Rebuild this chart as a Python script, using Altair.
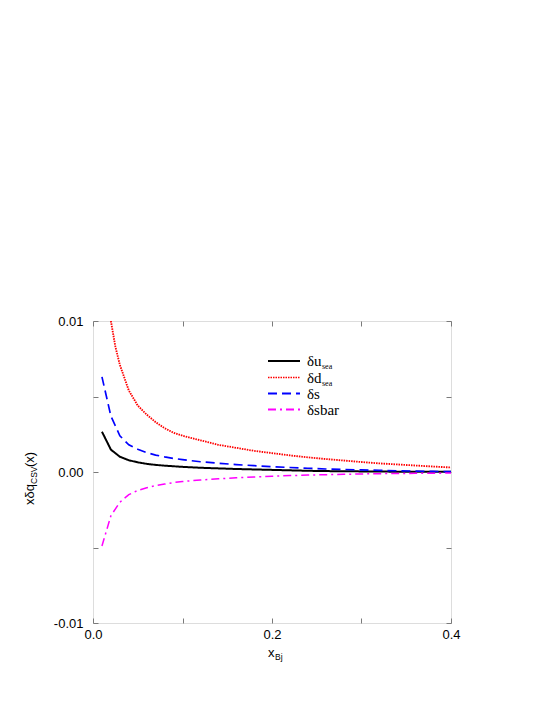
import altair as alt
import pandas as pd

# ---- data ----
x_u = [0.01, 0.02, 0.03, 0.04, 0.05, 0.06, 0.07, 0.08, 0.09, 0.10, 0.12, 0.14, 0.16, 0.18, 0.20,
       0.22, 0.24, 0.26, 0.28, 0.30, 0.32, 0.34, 0.36, 0.38, 0.40]
du_sea = [0.00267, 0.00148, 0.00101, 0.00078, 0.00064, 0.00054, 0.00047, 0.00042, 0.00038, 0.00034,
          0.00028, 0.00024, 0.00020, 0.00017, 0.00014, 0.00011, 0.00008, 0.00006, 0.00005, 0.00004,
          0.00003, 0.00002, 0.00002, 0.00001, 0.00001]

x_d = [0.02, 0.025, 0.03, 0.04, 0.05, 0.06, 0.07, 0.08, 0.09, 0.10, 0.12, 0.14, 0.16, 0.18, 0.20,
       0.22, 0.24, 0.26, 0.28, 0.30, 0.32, 0.34, 0.36, 0.38, 0.40]
dd_sea = [0.0100, 0.0083, 0.0071, 0.0054, 0.0044, 0.0038, 0.0033, 0.0029, 0.0026, 0.0024,
          0.0021, 0.0018, 0.0016, 0.0014, 0.00125, 0.00110, 0.00097, 0.00086, 0.00076, 0.00066,
          0.00057, 0.00050, 0.00043, 0.00036, 0.00030]

x_s = x_u
ds = [0.0063, 0.0037, 0.0024, 0.0018, 0.0015, 0.00128, 0.00112, 0.00100, 0.00090, 0.00082,
      0.00068, 0.00058, 0.00049, 0.00042, 0.00035, 0.00030, 0.00025, 0.00020, 0.00017, 0.00014,
      0.00011, 0.00008, 0.00006, 0.00004, 0.00002]

x_sbar = x_u
dsbar = [-0.0049, -0.0029, -0.0020, -0.0015, -0.00122, -0.00104, -0.00090, -0.00080, -0.00070, -0.00063,
         -0.00053, -0.00045, -0.00038, -0.00033, -0.00028, -0.00024, -0.00020, -0.00018, -0.00015, -0.00013,
         -0.00011, -0.00010, -0.00009, -0.00008, -0.00007]

series_names = ["du_sea", "dd_sea", "ds", "dsbar"]
series_colors = ["#000000", "#ff0000", "#0000ff", "#ff00ff"]
series_dash = [[1, 0], [1.5, 1], [9, 5], [8, 4, 2, 4]]
series_width = [2, 1.5, 2, 2]

x_ticks = [0.0, 0.1, 0.2, 0.3, 0.4]
y_ticks = [-0.01, -0.005, 0.0, 0.005, 0.01]

rows = []
for name, xs, ys in [("du_sea", x_u, du_sea), ("dd_sea", x_d, dd_sea),
                     ("ds", x_s, ds), ("dsbar", x_sbar, dsbar)]:
    for i, (a, b) in enumerate(zip(xs, ys)):
        rows.append({"x": a, "y": b, "series": name, "order": i})
df = pd.DataFrame(rows)

W, H = 358, 302
FRAME = "#7a7a7a"
SANS = "Liberation Sans"
SERIF = "Liberation Serif"

xscale = alt.Scale(domain=[0, 0.4], nice=False, zero=False)
yscale = alt.Scale(domain=[-0.01, 0.01], nice=False, zero=False)

x_label_expr = "round(datum.value*10) % 2 == 0 ? format(datum.value, '.1f') : ''"
y_label_expr = ("datum.value > 0.007 ? '0.01' : (datum.value < -0.007 ? '-0.01' : "
                "(abs(datum.value) < 0.001 ? '0.00' : ''))")

common_axis = dict(domain=False, grid=False, tickSize=5, offset=-5, tickColor=FRAME,
                   labelFont=SANS, labelFontSize=13, labelColor="#000000", title=None)

lines = alt.Chart(df).mark_line(clip=True).encode(
    x=alt.X("x:Q", scale=xscale,
            axis=alt.Axis(orient="bottom", values=x_ticks, labelExpr=x_label_expr,
                          labelPadding=5, labelFlush=False, **common_axis)),
    y=alt.Y("y:Q", scale=yscale,
            axis=alt.Axis(orient="left", values=y_ticks, labelExpr=y_label_expr,
                          labelPadding=10, **common_axis)),
    color=alt.Color("series:N", scale=alt.Scale(domain=series_names, range=series_colors), legend=None),
    strokeDash=alt.StrokeDash("series:N", scale=alt.Scale(domain=series_names, range=series_dash), legend=None),
    strokeWidth=alt.StrokeWidth("series:N", scale=alt.Scale(domain=series_names, range=series_width), legend=None),
    order="order:Q",
    detail="series:N",
)

opp_axis = dict(domain=False, grid=False, tickSize=5, offset=-5, tickColor=FRAME,
                labels=False, title=None)
mirror = alt.Chart(df).mark_point(opacity=0).encode(
    x=alt.X("x:Q", scale=xscale, axis=alt.Axis(orient="top", values=x_ticks, **opp_axis)),
    y=alt.Y("y:Q", scale=yscale, axis=alt.Axis(orient="right", values=y_ticks, **opp_axis)),
)

one = pd.DataFrame({"a": [0]})


def txt(s, x, y, size, font, angle=0, align="left"):
    kw = dict(text=s, font=font, fontSize=size, align=align, baseline="alphabetic", color="#000000")
    if angle:
        kw["angle"] = angle
    return alt.Chart(one).mark_text(**kw).encode(x=alt.value(x), y=alt.value(y))


def seg(x1, x2, y, color, dash, width):
    return alt.Chart(one).mark_rule(color=color, strokeDash=dash, strokeWidth=width).encode(
        x=alt.value(x1), x2=alt.value(x2), y=alt.value(y))


# legend (manual, to allow subscripts)
leg_y = [40, 56.5, 72.5, 88.5]
legend_layers = []
for i in range(4):
    legend_layers.append(seg(175, 207, leg_y[i], series_colors[i], series_dash[i], series_width[i]))
legend_layers += [
    txt("δu", 214, leg_y[0] + 5, 15, SERIF),
    txt("sea", 229, leg_y[0] + 8, 8, SERIF),
    txt("δd", 214, leg_y[1] + 5, 15, SERIF),
    txt("sea", 229, leg_y[1] + 8, 8, SERIF),
    txt("δs", 214, leg_y[2] + 5, 15, SERIF),
    txt("δsbar", 214, leg_y[3] + 5, 15, SERIF),
]

# axis titles (manual, to allow subscripts)
title_layers = [
    txt("xδq", -59, 184, 13, SANS, angle=270),
    txt("CSV", -56, 163, 8.5, SANS, angle=270),
    txt("(x)", -59, 146, 13, SANS, angle=270),
    txt("x", 175, 336, 13, SANS),
    txt("Bj", 182, 339, 8.5, SANS),
]

chart = alt.layer(lines, mirror, *legend_layers, *title_layers).resolve_axis(
    x="independent", y="independent"
).properties(
    width=W, height=H,
    autosize=alt.AutoSizeParams(type="none"),
    padding={"left": 85, "top": 313, "right": 80, "bottom": 60},
).configure_view(stroke=FRAME, strokeWidth=1.2).configure(background="white")

chart.save("out.html", embed_options={"renderer": "svg", "actions": False})
